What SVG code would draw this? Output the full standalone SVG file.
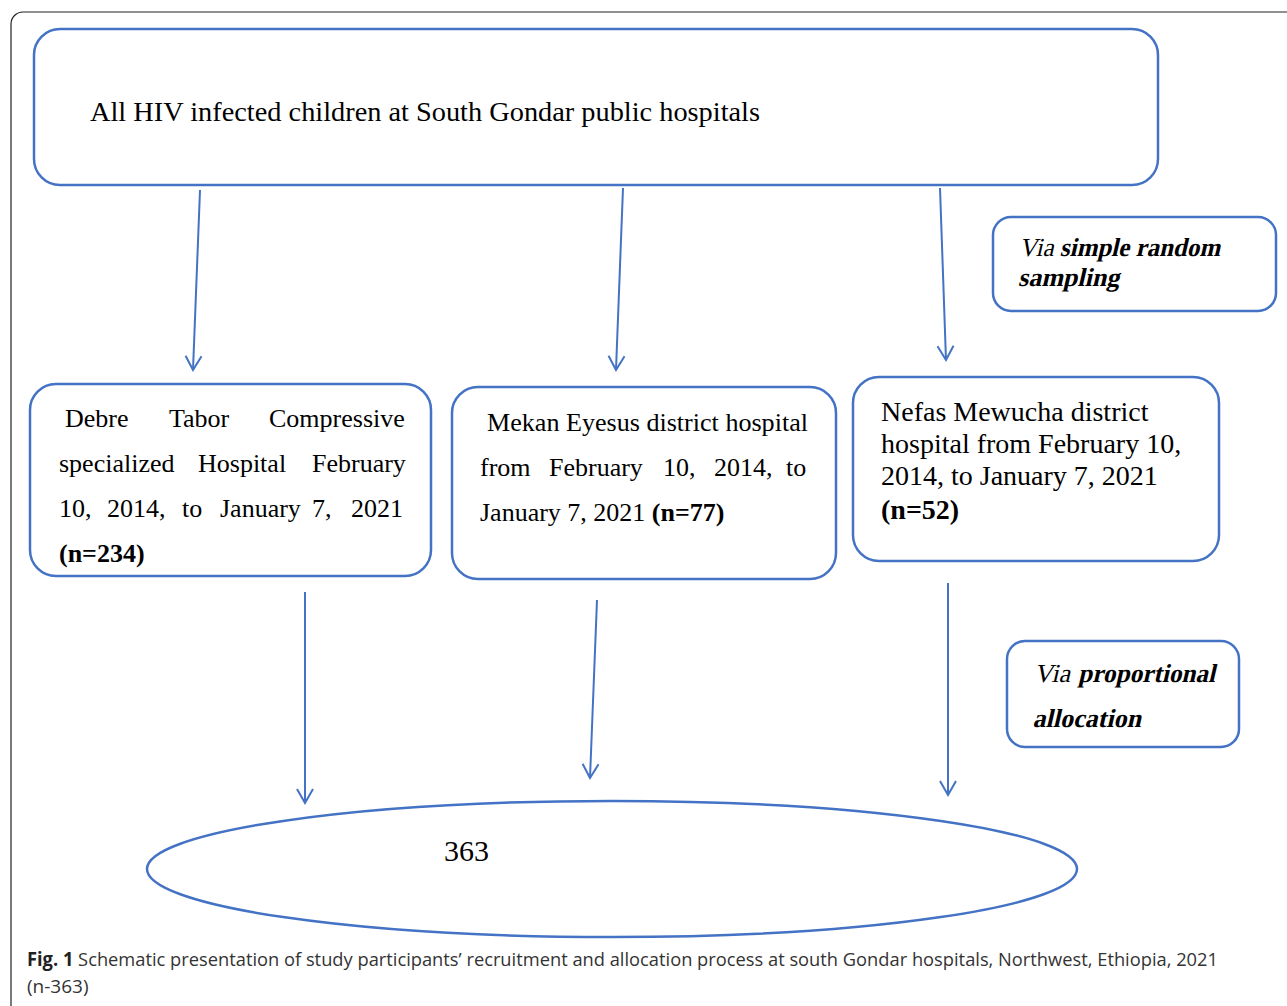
<svg xmlns="http://www.w3.org/2000/svg" width="1287" height="1006" viewBox="0 0 1287 1006">
<style>
.box{fill:#fff;stroke:#4472C4;stroke-width:2.5}
.t{font-family:"Liberation Serif","Times New Roman",serif;fill:#000}
.c{stroke:#4472C4;stroke-width:2;fill:none}
.cap{font-family:"Open Sans","Noto Sans",sans-serif;font-size:19px;fill:#333}
</style>
<defs>
<marker id="ah" viewBox="0 0 20 20" refX="18" refY="10" markerWidth="20" markerHeight="20" markerUnits="userSpaceOnUse" orient="auto">
<path d="M4,2 L18,10 L4,18" fill="none" stroke="#4472C4" stroke-width="2"/>
</marker>
</defs>
<rect width="1287" height="1006" fill="#fff"/>
<rect x="11" y="12" width="1300" height="1010" rx="12" fill="none" stroke="#222" stroke-width="1.2"/>
<g id="connectors">
<line class="c" x1="200" y1="190" x2="193" y2="370" marker-end="url(#ah)"/>
<line class="c" x1="623" y1="188" x2="616" y2="370" marker-end="url(#ah)"/>
<line class="c" x1="940" y1="188" x2="946" y2="360" marker-end="url(#ah)"/>
<line class="c" x1="305" y1="592" x2="305" y2="803" marker-end="url(#ah)"/>
<line class="c" x1="597" y1="600" x2="590" y2="778" marker-end="url(#ah)"/>
<line class="c" x1="948" y1="583" x2="948" y2="795" marker-end="url(#ah)"/>
</g>
<g id="top">
<rect class="box" x="34" y="29" width="1124" height="156" rx="26"/>
<text class="t" x="90" y="121" font-size="28" textLength="670" lengthAdjust="spacingAndGlyphs">All HIV infected children at South Gondar public hospitals</text>
</g>
<g id="debre">
<rect class="box" x="30" y="384" width="401" height="192" rx="26"/>
<text class="t" font-size="26">
<tspan x="65" y="427">Debre</tspan><tspan x="169" y="427">Tabor</tspan><tspan x="269" y="427">Compressive</tspan>
<tspan x="59" y="472">specialized</tspan><tspan x="198" y="472">Hospital</tspan><tspan x="312" y="472">February</tspan>
<tspan x="59" y="517">10,</tspan><tspan x="107" y="517">2014,</tspan><tspan x="182" y="517">to</tspan><tspan x="220" y="517">January</tspan><tspan x="312" y="517">7,</tspan><tspan x="351" y="517">2021</tspan>
<tspan x="59" y="562" font-weight="bold">(n=234)</tspan>
</text>
</g>
<g id="mekan">
<rect class="box" x="452" y="387" width="384" height="192" rx="26"/>
<text class="t" font-size="26">
<tspan x="487" y="431" textLength="321" lengthAdjust="spacingAndGlyphs">Mekan Eyesus district hospital</tspan>
<tspan x="480" y="476">from</tspan><tspan x="549" y="476">February</tspan><tspan x="663" y="476">10,</tspan><tspan x="714" y="476">2014,</tspan><tspan x="786" y="476">to</tspan>
<tspan x="480" y="521">January 7, 2021 <tspan font-weight="bold">(n=77)</tspan></tspan>
</text>
</g>
<g id="nefas">
<rect class="box" x="853" y="377" width="366" height="184" rx="26"/>
<text class="t" font-size="28">
<tspan x="881" y="421">Nefas Mewucha district</tspan>
<tspan x="881" y="453">hospital from February 10,</tspan>
<tspan x="881" y="485">2014, to January 7, 2021</tspan>
<tspan x="881" y="519" font-weight="bold">(n=52)</tspan>
</text>
</g>
<g id="srs">
<rect class="box" x="993" y="217" width="283" height="94" rx="18"/>
<g transform="translate(1019,256) skewX(-13)">
<text class="t" font-size="26" x="0" y="0" textLength="201" lengthAdjust="spacingAndGlyphs">Via <tspan font-weight="bold">simple random</tspan></text>
<text class="t" font-size="26" x="6" y="30" font-weight="bold">sampling</text>
</g>
</g>
<g id="prop">
<rect class="box" x="1007" y="641" width="232" height="106" rx="18"/>
<g transform="translate(1034,682) skewX(-13)">
<text class="t" font-size="26" x="0" y="0">Via</text>
<text class="t" font-size="26" x="44" y="0" font-weight="bold" textLength="137" lengthAdjust="spacingAndGlyphs">proportional</text>
<text class="t" font-size="26" x="9" y="45" font-weight="bold">allocation</text>
</g>
</g>
<g id="total">
<ellipse class="box" cx="612" cy="869" rx="465" ry="68"/>
<text class="t" x="444" y="861" font-size="30">363</text>
</g>
<g id="caption">
<text class="cap" x="27" y="966" textLength="1191" lengthAdjust="spacingAndGlyphs"><tspan font-weight="bold" fill="#222">Fig. 1</tspan>  Schematic presentation of study participants’ recruitment and allocation process at south Gondar hospitals, Northwest, Ethiopia, 2021</text>
<text class="cap" x="27" y="993">(n-363)</text>
</g>
</svg>
